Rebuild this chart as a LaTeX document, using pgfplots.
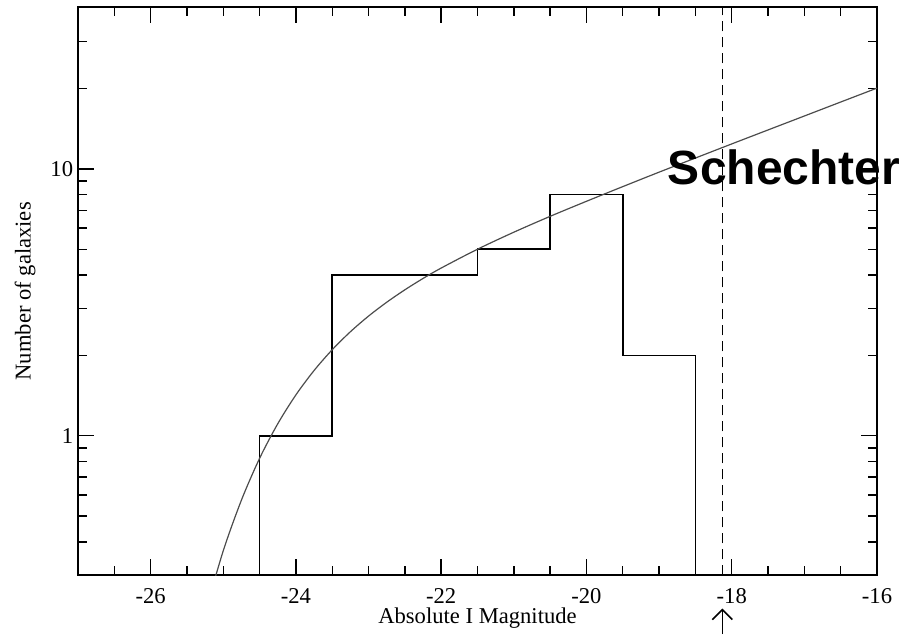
\documentclass[border=0pt]{standalone}
\usepackage{fontspec}
\setmainfont{Liberation Serif}
\newfontfamily\sansbold{Liberation Sans}
\usepackage{pgfplots}
\pgfplotsset{compat=1.18}
\usetikzlibrary{arrows.meta}
\begin{document}
\fontsize{11.3}{13.5}\selectfont
\begin{tikzpicture}
\begin{axis}[
  scale only axis, width=399.5pt, height=284pt,
  xmin=-27, xmax=-16, ymode=log, ymin=0.3, ymax=40.3,
  xtick={-26,-24,-22,-20,-18,-16},
  xticklabels={-26,-24,-22,-20,-18,-16},
  minor xtick={-26.5,-25.5,-25,-24.5,-23.5,-23,-22.5,-21.5,-21,-20.5,-19.5,-19,-18.5,-17.5,-17,-16.5},
  ytick={1,10}, yticklabels={1,10},
  minor ytick={0.4,0.5,0.6,0.7,0.8,0.9,2,3,4,5,6,7,8,9,20,30},
  /pgf/number format/assume math mode=true,
  xticklabel style={yshift=-2.5pt},
  yticklabel style={xshift=1.5pt},
  major tick length=8pt, minor tick length=4.5pt,
  axis line style={line width=0.85pt},
  every tick/.style={black, line width=0.7pt},
  xlabel={Absolute I Magnitude}, ylabel={Number of galaxies},
  every axis x label/.style={at={(axis description cs:0.5,-0.0845)}, anchor=base},
  every axis y label/.style={at={(axis description cs:-0.0663,0.5)}, rotate=90, anchor=center},
  clip mode=individual,
]
\coordinate (sw) at (rel axis cs:0,0);
\coordinate (ne) at (rel axis cs:1,1);
\coordinate (ab) at (axis cs:-18.13,0.3);
% histogram
\addplot[black, line width=0.75pt] coordinates {
  (-24.5,0.3) (-24.5,1) (-23.5,1) (-23.5,4) (-21.5,4) (-21.5,5)
  (-20.5,5) (-20.5,8) (-19.5,8) (-19.5,2) (-18.5,2) (-18.5,0.3)};
% Schechter fit
\addplot[smooth, black!70, line width=0.6pt] coordinates {
  (-25.25,0.217) (-25.0,0.371) (-24.75,0.574) (-24.5,0.823) (-24.25,1.109)
  (-24.0,1.423) (-23.75,1.756) (-23.5,2.101) (-23.25,2.453) (-23.0,2.808)
  (-22.75,3.164) (-22.5,3.523) (-22.25,3.885) (-22.0,4.250) (-21.5,5.0)
  (-21.0,5.79) (-20.5,6.64) (-20.0,7.56) (-19.5,8.58) (-19.0,9.72)
  (-18.5,10.98) (-18.0,12.40) (-17.5,13.99) (-17.0,15.78) (-16.5,17.80)
  (-16.0,20.07)};
% completeness limit
\addplot[black, line width=0.6pt, dash pattern=on 5pt off 3pt] coordinates {(-18.13,0.3) (-18.13,40.3)};
\node[font=\sansbold\bfseries\fontsize{24}{28}\selectfont, anchor=base, inner sep=0pt] at (axis cs:-17.28,8.71) {Schechter};
\end{axis}
\draw[-{Straight Barb[length=5pt,width=10pt]}, line width=0.8pt] ([yshift=-29.35pt]ab) -- ([yshift=-16.6pt]ab);
\path ([shift={(-39pt,-29.35pt)}]sw) rectangle ([shift={(17.5pt,3.65pt)}]ne);
\end{tikzpicture}
\end{document}
